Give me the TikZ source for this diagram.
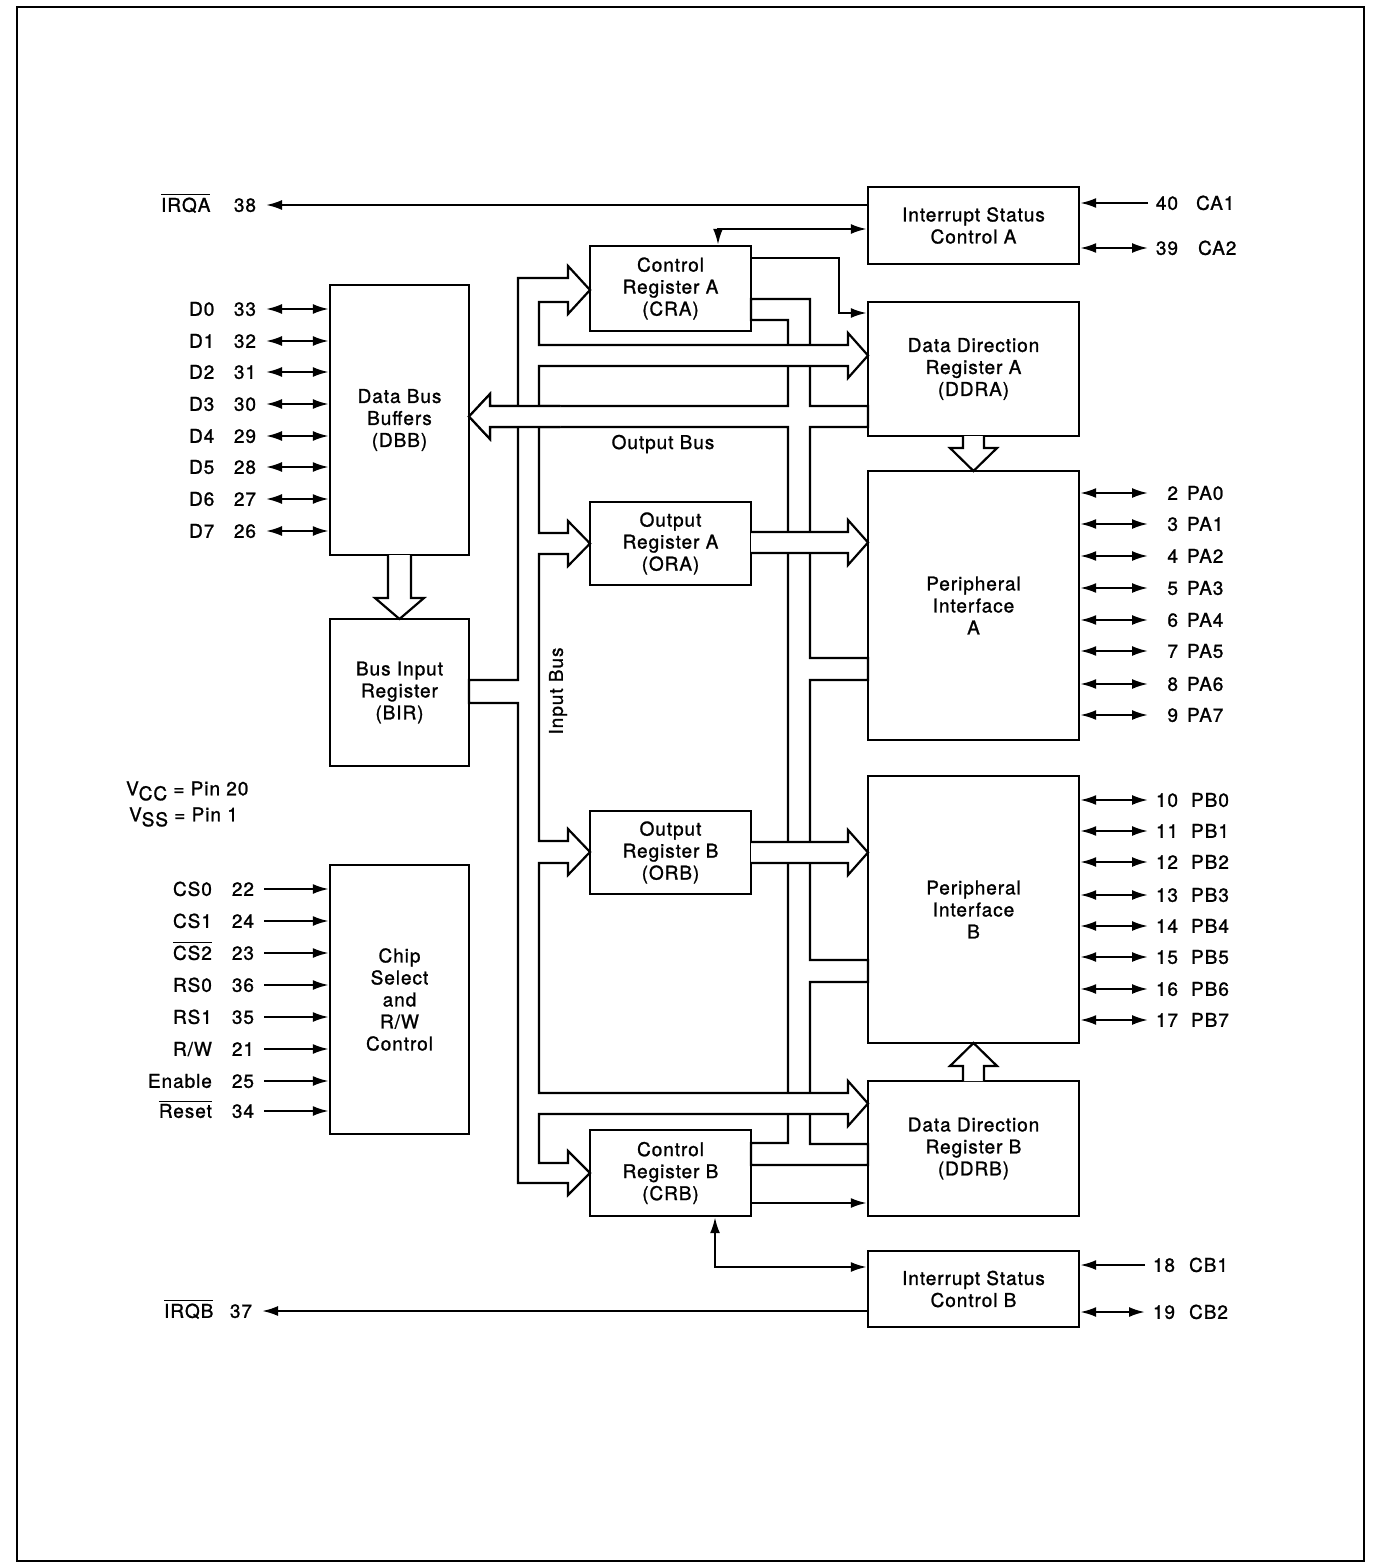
\documentclass[tikz,border=0pt]{standalone}
\usepackage{fontspec}
\setmainfont[LetterSpace=5, FakeBold=1.2]{TeX Gyre Heros}
\usetikzlibrary{arrows.meta}

\tikzset{
  blk/.style={draw, line width=1.2pt, align=center, inner sep=0pt},
  colbox/.style={blk, minimum width=105.5pt},
  regbox/.style={blk, minimum width=80.5pt},
  bufbox/.style={blk, minimum width=69.5pt},
  pinname/.style={inner sep=0pt, text height=6.8pt, text depth=0pt},
  lnum/.style={pinname, text width=14pt, align=right, outer xsep=5pt},
  rnum/.style={pinname, text width=13pt, align=right, outer xsep=2pt},
  onearr/.style={-{Latex[length=8pt,width=5pt]}},
  twoarr/.style={{Latex[length=8pt,width=5pt]}-{Latex[length=8pt,width=5pt]}},
  bus/.style={draw, fill=white}
}

\begin{document}
\begin{tikzpicture}[x=0.5pt, y=-0.5pt, line width=1.1pt, font=\fontsize{9.5}{11}\selectfont]
  \useasboundingbox (0,0) rectangle (1372,1567);
  % page frame
  \draw[line width=1.2pt] (17,7) rectangle (1364,1561);

  % blocks
  \node[colbox, minimum height=38.5pt] (isca) at (973.5,225.5) {Interrupt Status\\Control A};
  \node[regbox, minimum height=42.5pt] (cra) at (670.5,288.5) {Control\\Register A\\(CRA)};
  \node[colbox, minimum height=67pt] (ddra) at (973.5,369) {Data Direction\\Register A\\(DDRA)};
  \node[bufbox, minimum height=135pt] (dbb) at (399.5,420) {Data Bus\\Buffers\\(DBB)};
  \node[colbox, minimum height=134.5pt] (pia) at (973.5,605.5) {Peripheral\\Interface\\A};
  \node[regbox, minimum height=41.5pt] (ora) at (670.5,543.5) {Output\\Register A\\(ORA)};
  \node[bufbox, minimum height=73.5pt] (bir) at (399.5,692.5) {Bus Input\\Register\\(BIR)};
  \node[regbox, minimum height=41.5pt] (orb) at (670.5,852.5) {Output\\Register B\\(ORB)};
  \node[colbox, minimum height=133.5pt] (pib) at (973.5,909.5) {Peripheral\\Interface\\B};
  \node[bufbox, minimum height=134.5pt] (csrw) at (399.5,999.5) {Chip\\Select\\and\\R/W\\Control};
  \node[colbox, minimum height=67.5pt] (ddrb) at (973.5,1148.5) {Data Direction\\Register B\\(DDRB)};
  \node[regbox, minimum height=43pt] (crb) at (670.5,1173) {Control\\Register B\\(CRB)};
  \node[colbox, minimum height=38pt] (iscb) at (973.5,1289) {Interrupt Status\\Control B};

  % output bus
  \draw[bus] (751,299) -- (810,299) -- (810,406) -- (868,406) -- (868,427) -- (810,427)
    -- (810,658) -- (868,658) -- (868,680) -- (810,680) -- (810,960) -- (868,960)
    -- (868,982) -- (810,982) -- (810,1144) -- (868,1144) -- (868,1165) -- (751,1165)
    -- (751,1143) -- (788,1143) -- (788,427) -- (490,427) -- (490,439) -- (469,416.5)
    -- (490,394) -- (490,406) -- (788,406) -- (788,320) -- (751,320) -- cycle;
  \draw[bus] (751,532) -- (848,532) -- (848,520) -- (868,542.5) -- (848,565) -- (848,553) -- (751,553);
  \draw[bus] (751,842) -- (848,842) -- (848,830) -- (868,852.5) -- (848,875) -- (848,863) -- (751,863);

  % input bus
  \draw[bus] (469,680) -- (518,680) -- (518,278) -- (568,278) -- (568,266) -- (590,290)
    -- (568,314) -- (568,302) -- (539,302) -- (539,345) -- (848,345) -- (848,333)
    -- (868,355.5) -- (848,378) -- (848,366) -- (539,366) -- (539,533) -- (568,533)
    -- (568,521) -- (590,543.5) -- (568,566) -- (568,554) -- (539,554) -- (539,841)
    -- (568,841) -- (568,829) -- (590,852) -- (568,875) -- (568,863) -- (539,863)
    -- (539,1093) -- (848,1093) -- (848,1081) -- (868,1103.5) -- (848,1126) -- (848,1114)
    -- (539,1114) -- (539,1163) -- (568,1163) -- (568,1151) -- (590,1173) -- (568,1195)
    -- (568,1183) -- (518,1183) -- (518,703) -- (469,703) -- cycle;
  \draw[bus] (560,406) -- (490,406) -- (490,394) -- (469,416.5) -- (490,439) -- (490,427) -- (560,427);

  % vertical transfers
  \draw[bus] (388,555) -- (388,598) -- (375,598) -- (399.5,619) -- (424,598) -- (411,598) -- (411,555);
  \draw[bus] (963,436) -- (963,448) -- (950,448) -- (973.5,471) -- (997,448) -- (984,448) -- (984,436);
  \draw[bus] (963,1081) -- (963,1066) -- (950,1066) -- (973.5,1043) -- (997,1066) -- (984,1066) -- (984,1081);

  \node[inner sep=0pt] (outbus) at (663,444) {Output Bus};
  \node[inner sep=0pt, rotate=90] (inbus) at (558,691) {Input Bus};

  % control lines
  \draw[twoarr] (cra.north -| 718,0) |- (isca.west |- 0,229);
  \draw[onearr] (cra.east |- 0,258) -| (839,313) -- (ddra.west |- 0,313);
  \draw[onearr] (crb.east |- 0,1203) -- (ddrb.west |- 0,1203);
  \draw[twoarr] (crb.south -| 715,0) |- (iscb.west |- 0,1267);

  % interrupt pins
  \node[pinname, anchor=west] (irqan) at (160,205) {$\overline{\mbox{IRQA}}$};
  \node[lnum, anchor=east] (irqa) at (266,205) {38};
  \draw[onearr] (isca.west |- irqa) -- (irqa.east);
  \node[pinname, anchor=west] (irqbn) at (163,1311) {$\overline{\mbox{IRQB}}$};
  \node[lnum, anchor=east] (irqb) at (262,1311) {37};
  \draw[onearr] (iscb.west |- irqb) -- (irqb.east);

  \node[rnum, anchor=west] (ca1) at (1148,203) {40};
  \node[pinname, anchor=west] (ca1n) at (1195,203) {CA1};
  \draw[onearr] (ca1.west) -- (isca.east |- ca1);
  \node[rnum, anchor=west] (ca2) at (1148,248) {39};
  \node[pinname, anchor=west] (ca2n) at (1197,248) {CA2};
  \draw[twoarr] (isca.east |- ca2) -- (ca2.west);
  \node[rnum, anchor=west] (cb1) at (1145,1265) {18};
  \node[pinname, anchor=west] (cb1n) at (1188,1265) {CB1};
  \draw[onearr] (cb1.west) -- (iscb.east |- cb1);
  \node[rnum, anchor=west] (cb2) at (1145,1312) {19};
  \node[pinname, anchor=west] (cb2n) at (1188,1312) {CB2};
  \draw[twoarr] (iscb.east |- cb2) -- (cb2.west);

  % data pins
  \foreach \nm/\num/\yy [count=\i] in {D0/33/309, D1/32/341, D2/31/372, D3/30/404,
      D4/29/436, D5/28/467, D6/27/499, D7/26/531} {
    \node[pinname, anchor=west] (dn\i) at (188,\yy) {\nm};
    \node[lnum, anchor=east] (d\i) at (266,\yy) {\num};
    \draw[twoarr] (d\i.east) -- (d\i.east -| dbb.west);
  }

  % chip select pins
  \foreach \nm/\num/\yy [count=\i] in {CS0/22/889, CS1/24/921, $\overline{\mbox{CS2}}$/23/953,
      RS0/36/985, RS1/35/1017, {R/W}/21/1049, Enable/25/1081, $\overline{\mbox{Reset}}$/34/1111} {
    \node[pinname, anchor=east] (cn\i) at (213,\yy) {\nm};
    \node[lnum, anchor=east] (c\i) at (264,\yy) {\num};
    \draw[onearr] (c\i.east) -- (c\i.east -| csrw.west);
  }

  % port pins
  \foreach \num/\yy [count=\i from 0] in {2/493, 3/524, 4/556, 5/588, 6/620, 7/651, 8/684, 9/715} {
    \node[rnum, anchor=west] (pa\i) at (1148,\yy) {\num};
    \node[pinname, anchor=west] (pan\i) at (1186,\yy) {PA\i};
    \draw[twoarr] (pia.east |- pa\i) -- (pa\i.west);
  }
  \foreach \num/\yy [count=\i from 0] in {10/800, 11/831, 12/862, 13/895, 14/926, 15/957, 16/989, 17/1020} {
    \node[rnum, anchor=west] (pb\i) at (1148,\yy) {\num};
    \node[pinname, anchor=west] (pbn\i) at (1190,\yy) {PB\i};
    \draw[twoarr] (pib.east |- pb\i) -- (pb\i.west);
  }

  % supply note
  \node[inner sep=0pt, anchor=west] (vcc) at (125,791) {V\raisebox{-0.5ex}{CC} = Pin 20};
  \node[inner sep=0pt, anchor=west] (vss) at (128,817) {V\raisebox{-0.5ex}{SS} = Pin 1};
\end{tikzpicture}
\end{document}
